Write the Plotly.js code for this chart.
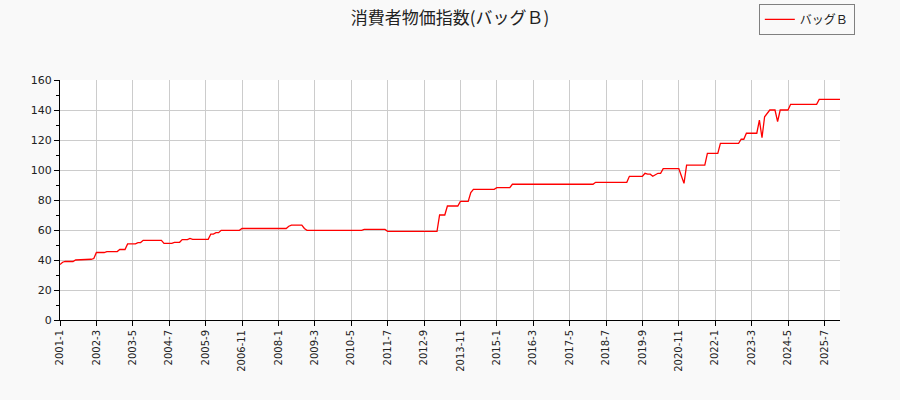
<!DOCTYPE html>
<html>
<head>
<meta charset="utf-8">
<script src="https://cdn.plot.ly/plotly-3.0.1.min.js"></script>
<style>
  html, body { margin: 0; padding: 0; background: #f9f9f9; }
  #graph { width: 900px; height: 400px; }
</style>
</head>
<body>
<div id="graph"></div>
<script>
"use strict";

// 月次データ 2001-1 〜 2026-1
const startYear = 2001;
const seriesName = 'バッグＢ';
const chartTitle = '消費者物価指数(バッグＢ)';

const values = [
    37, 38.5, 39, 39, 39, 39, 40, 40, 40, 40.5, 40.5, 40.5,                       // 2001
    40.5, 41, 45, 45, 45, 45, 45.6, 45.6, 45.6, 45.6, 45.6, 47,                   // 2002
    47, 47, 50.7, 50.7, 50.7, 50.7, 51.6, 51.6, 53.1, 53.1, 53.1, 53.1,           // 2003
    53.1, 53.1, 53.1, 53.1, 51.1, 51.1, 51.1, 51.1, 51.8, 51.8, 51.8, 53.6,       // 2004
    53.6, 53.6, 54.4, 53.8, 53.8, 53.8, 53.8, 53.8, 53.8, 53.8, 57.3, 57.3,       // 2005
    58.2, 58.2, 59.8, 59.8, 59.8, 59.8, 59.8, 59.8, 59.8, 59.8, 61, 61,           // 2006
    61, 61, 61, 61, 61, 61, 61, 61, 61, 61, 61, 61,                               // 2007
    61, 61, 61, 61, 62.5, 63.3, 63.3, 63.3, 63.3, 63.3, 61, 59.8,                 // 2008
    59.8, 59.8, 59.8, 59.8, 59.8, 59.8, 59.8, 59.8, 59.8, 59.8, 59.8, 59.8,       // 2009
    59.8, 59.8, 59.8, 59.8, 59.8, 59.8, 59.8, 59.8, 59.8, 60.4, 60.4, 60.4,       // 2010
    60.4, 60.4, 60.4, 60.4, 60.4, 60.4, 59.1, 59.1, 59.1, 59.1, 59.1, 59.1,       // 2011
    59.1, 59.1, 59.1, 59.1, 59.1, 59.1, 59.1, 59.1, 59.1, 59.1, 59.1, 59.1,       // 2012
    59.1, 59.1, 70, 70, 70, 76, 76, 76, 76, 76, 79.1, 79.1,                       // 2013
    79.1, 79.1, 85, 87.1, 87.1, 87.1, 87.1, 87.1, 87.1, 87.1, 87.1, 87.1,         // 2014
    88.2, 88.2, 88.2, 88.2, 88.2, 88.2, 90.5, 90.5, 90.5, 90.5, 90.5, 90.5,       // 2015
    90.5, 90.5, 90.5, 90.5, 90.5, 90.5, 90.5, 90.5, 90.5, 90.5, 90.5, 90.5,       // 2016
    90.5, 90.5, 90.5, 90.5, 90.5, 90.5, 90.5, 90.5, 90.5, 90.5, 90.5, 90.5,       // 2017
    90.5, 90.5, 91.8, 91.8, 91.8, 91.8, 91.8, 91.8, 91.8, 91.8, 91.8, 91.8,       // 2018
    91.8, 91.8, 91.8, 95.8, 95.8, 95.8, 95.8, 95.8, 95.8, 97.8, 97.2, 97.2,       // 2019
    95.8, 96.8, 97.8, 97.8, 100.9, 100.9, 100.9, 100.9, 100.9, 100.9, 100.9, 96,  // 2020
    91.1, 103.3, 103.3, 103.3, 103.3, 103.3, 103.3, 103.3, 103.3, 111.1, 111.1, 111.1, // 2021
    111.1, 111.1, 117.8, 117.8, 117.8, 117.8, 117.8, 117.8, 117.8, 117.8, 120.5, 120.5, // 2022
    124.5, 124.5, 124.5, 124.5, 124.5, 133.3, 121.5, 135.5, 138, 140, 140, 140,   // 2023
    132.2, 140, 140, 140, 140, 143.8, 143.8, 143.8, 143.8, 143.8, 143.8, 143.8,   // 2024
    143.8, 143.8, 143.8, 143.8, 147.1, 147.1, 147.1, 147.1, 147.1, 147.1, 147.1, 147.1, // 2025
    147.1                                                                          // 2026
];

const monthLabels = values.map((v, i) => `${startYear + Math.floor(i / 12)}-${(i % 12) + 1}`);
const tickLabels = monthLabels.filter((m, i) => i % 14 === 0);

const axisFont = { family: 'DejaVu Sans, sans-serif', size: 11, color: '#222' };

const traces = [{
    x: monthLabels, y: values, type: 'scatter', mode: 'lines', name: seriesName,
    line: { color: '#ff0000', width: 1.3 }
}];

const layout = {
    width: 900, height: 400,
    paper_bgcolor: '#f9f9f9', plot_bgcolor: '#ffffff',
    margin: { l: 60, r: 60, t: 80, b: 80, autoexpand: false },
    title: { text: chartTitle, x: 0.5, xanchor: 'center', y: 0.955, yanchor: 'middle',
        font: { family: 'Noto Sans CJK JP, sans-serif', size: 17, color: '#222' } },
    showlegend: true,
    legend: {
        x: 1.019, xanchor: 'right', y: 1.317, yanchor: 'top',
        bgcolor: '#f9f9f9', bordercolor: '#808080', borderwidth: 1,
        itemwidth: 30, tracegroupgap: 0,
        font: { family: 'Noto Sans CJK JP, sans-serif', size: 12, color: '#222' }
    },
    xaxis: {
        type: 'category', range: [0, values.length - 1],
        tickvals: tickLabels, ticktext: tickLabels, tickangle: -90,
        tickfont: { family: 'DejaVu Sans, sans-serif', size: 10, color: '#222' },
        ticks: 'outside', ticklen: 5, tickcolor: '#000',
        showline: true, linecolor: '#000', linewidth: 1, mirror: false,
        showgrid: true, gridcolor: '#cccccc', gridwidth: 1, zeroline: false
    },
    yaxis: {
        range: [0, 160], dtick: 20, tickfont: axisFont,
        ticks: 'outside', ticklen: 5, tickcolor: '#000',
        minor: { dtick: 10, ticks: 'outside', ticklen: 3, tickcolor: '#000', showgrid: false },
        showline: true, linecolor: '#000', linewidth: 1,
        showgrid: true, gridcolor: '#cccccc', gridwidth: 1, zeroline: false
    }
};

Plotly.newPlot('graph', traces, layout, { staticPlot: true }).catch(err => {
    console.error('グラフ描画エラー:', err);
});
</script>
</body>
</html>
